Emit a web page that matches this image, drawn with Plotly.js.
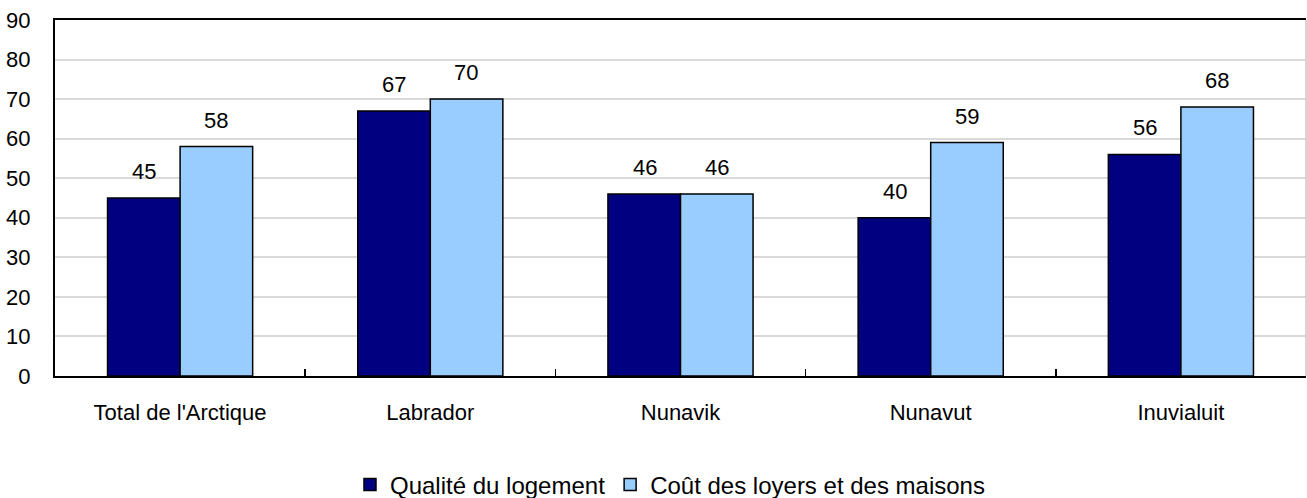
<!DOCTYPE html>
<html><head><meta charset="utf-8">
<script src="https://cdn.plot.ly/plotly-3.0.1.min.js"></script>
<style>body{margin:0;background:#fff}#c{width:1307px;height:498px}</style>
</head><body><div id="c"></div>
<script>
const categories = ["Total de l'Arctique", "Labrador", "Nunavik", "Nunavut", "Inuvialuit"];
const qualite = [45, 67, 46, 40, 56];
const cout = [58, 70, 46, 59, 68];
const seriesNames = ["Qualité du logement", "Coût des loyers et des maisons"];
const yTicks = [0, 10, 20, 30, 40, 50, 60, 70, 80, 90];

const font = "Liberation Sans, Arial, sans-serif";
const traces = [
  {type: 'bar', x: categories, y: qualite, name: seriesNames[0],
   marker: {color: '#000080', line: {color: '#000', width: 1.5}}},
  {type: 'bar', x: categories, y: cout, name: seriesNames[1],
   marker: {color: '#99CCFF', line: {color: '#000', width: 1.5}}}
];
const annotations = [];
categories.forEach((c, i) => {
  annotations.push({x: c, y: qualite[i], xref: 'x', yref: 'y', text: String(qualite[i]),
    showarrow: false, xshift: -36, yshift: 12, yanchor: 'bottom', font: {size: 22, color: '#000', family: font}});
  annotations.push({x: c, y: cout[i], xref: 'x', yref: 'y', text: String(cout[i]),
    showarrow: false, xshift: 36, yshift: 12, yanchor: 'bottom', font: {size: 22, color: '#000', family: font}});
});
const layout = {
  width: 1307, height: 498,
  margin: {l: 55, r: 1, t: 20, b: 122, autoexpand: false},
  paper_bgcolor: '#fff', plot_bgcolor: '#fff',
  font: {family: font, size: 22, color: '#000'},
  barmode: 'group', bargap: 0.42, bargroupgap: 0,
  xaxis: {type: 'category', showline: true, linecolor: '#000', linewidth: 2, mirror: true,
    ticks: 'inside', tickson: 'boundaries', ticklen: 7, tickcolor: '#000', tickwidth: 1.5,
    ticklabelstandoff: 16, tickfont: {size: 22}, showgrid: false, zeroline: false},
  yaxis: {range: [0, 90], tickvals: yTicks, ticktext: yTicks.map(String), showline: true,
    linecolor: '#000', linewidth: 2, showgrid: true, gridcolor: '#d9d9d9', gridwidth: 2,
    ticks: '', ticklabelstandoff: 18, tickfont: {size: 22}, zeroline: false},
  shapes: [{type: 'line', xref: 'paper', yref: 'paper', x0: 1, x1: 1, y0: 0, y1: 1,
    line: {color: '#c8c8c8', width: 1.5}}],
  showlegend: true,
  legend: {orientation: 'h', x: 0.4916, xanchor: 'center', y: -0.306, yanchor: 'middle',
    font: {size: 24}, itemwidth: 30, traceorder: 'normal', tracegroupgap: 0},
  annotations: annotations
};
Plotly.newPlot('c', traces, layout, {displayModeBar: false, staticPlot: true});
</script></body></html>
